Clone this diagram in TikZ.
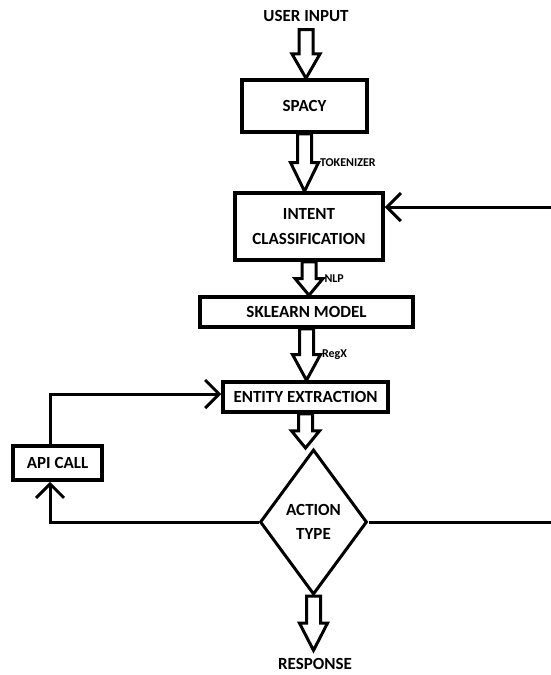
\documentclass[tikz,border=0pt]{standalone}
\usepackage{fontspec}
\setmainfont{Carlito}
\usetikzlibrary{calc,shapes.geometric,arrows.meta}

\newcommand{\blockarrow}[3]{%
  \draw[barrow] let \p1=(#1), \p2=(#2), \p3=($(#1)!0.5!(#2)$) in
    (\x1-7pt,\y1) -- (\x1-7pt,\y3) -- (\x1-14pt,\y3) -- (\x1,\y2)
    -- (\x1+14pt,\y3) -- (\x1+7pt,\y3) -- (\x1+7pt,\y1) -- cycle
    node[lbl, anchor=west] at (\x1+13pt,\y3) {#3};}

\begin{document}
\begin{tikzpicture}[x=1pt, y=-1pt,
  block/.style={rectangle, draw, line width=3.5pt, inner sep=2pt},
  decision/.style={diamond, draw, line width=3pt, aspect=0.74, inner sep=0pt,
    minimum width=107pt, minimum height=145pt, align=center},
  txt/.style={inner sep=0pt, outer sep=8pt},
  lbl/.style={font=\fontsize{12}{14}\selectfont\bfseries, inner sep=1pt},
  line/.style={draw, line width=3pt},
  barrow/.style={line width=3pt, line join=miter},
  >={Straight Barb[length=14pt, width=28pt]}]
  \fontsize{17}{24.5}\selectfont\bfseries
  \useasboundingbox (0,0) rectangle (551,675);

  \node[txt] (input) at (306,16) {USER INPUT};
  \node[block, minimum width=125pt, minimum height=52pt] (spacy) at (304.5,106) {SPACY};
  \node[block, minimum width=148pt, minimum height=67pt, align=center] (intent) at (309,226.5) {INTENT\\CLASSIFICATION};
  \node[block, minimum width=213pt, minimum height=30pt] (model) at (306.5,312) {SKLEARN MODEL};
  \node[block, minimum width=165pt, minimum height=30pt] (entity) at (305.5,397) {ENTITY EXTRACTION};
  \node[decision] (action) at (313.5,522) {ACTION\\TYPE};
  \node[block, minimum width=89pt, minimum height=34pt] (api) at (57.5,463) {API CALL};
  \node[txt] (response) at (315,664) {RESPONSE};
  \coordinate (loopR) at (562,0);

  \blockarrow{input.south}{spacy.north}{}
  \blockarrow{spacy.south}{intent.north}{TOKENIZER}
  \blockarrow{intent.south}{model.north}{NLP}
  \blockarrow{model.south}{entity.north}{RegX}
  \blockarrow{entity.south}{action.north}{}
  \blockarrow{action.south}{response.north}{}

  \draw[line, ->] (action.west) -| ([xshift=-7.5pt]api.south);
  \draw[line, ->] ([xshift=-7.5pt]api.north) |- ([yshift=3pt]entity.west);
  \draw[line, ->] (action.east) -- (action.east -| loopR) |- ([yshift=19.5pt]intent.east);

\end{tikzpicture}
\end{document}
